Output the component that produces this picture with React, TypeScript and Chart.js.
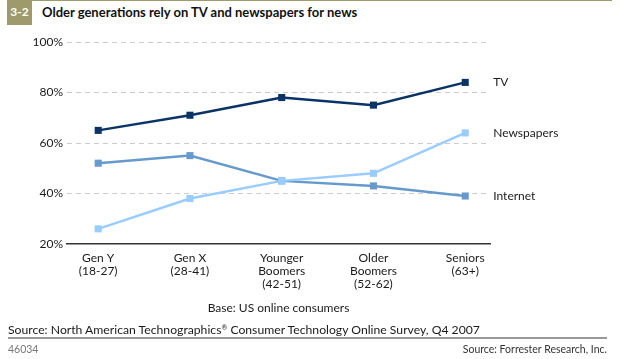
import React, { useEffect, useRef } from "react";
import { Chart, registerables } from "chart.js";

Chart.register(...registerables);

const categories: string[][] = [
  ["Gen Y", "(18-27)"],
  ["Gen X", "(28-41)"],
  ["Younger", "Boomers", "(42-51)"],
  ["Older", "Boomers", "(52-62)"],
  ["Seniors", "(63+)"],
];
const tvValues = [65, 71, 78, 75, 84];
const newspaperValues = [26, 38, 45, 48, 64];
const internetValues = [52, 55, 45, 43, 39];
const seriesNames = ["TV", "Newspapers", "Internet"];
const yTicks = [20, 40, 60, 80, 100];

const FONT = "Lato, 'Open Sans', sans-serif";
const OLIVE = "#9e9a6b";

const seriesLabelPlugin = {
  id: "seriesLabels",
  afterDatasetsDraw(chart: any) {
    const ctx = chart.ctx;
    ctx.save();
    ctx.font = `12px ${FONT}`;
    ctx.fillStyle = "#1a1a1a";
    ctx.textBaseline = "middle";
    ctx.textAlign = "left";
    chart.data.datasets.forEach((ds: any, i: number) => {
      const meta = chart.getDatasetMeta(i);
      const pt = meta.data[meta.data.length - 1];
      if (pt) ctx.fillText(ds.label, pt.x + 28, pt.y);
    });
    ctx.restore();
  },
};

export default function App() {
  const ref = useRef<HTMLCanvasElement>(null);
  useEffect(() => {
    if (!ref.current) return;
    const mk = (values: number[], i: number, color: string) => ({
      label: seriesNames[i],
      data: values.map((v, j) => ({ x: j, y: v })),
      borderColor: color,
      backgroundColor: color,
      pointBackgroundColor: color,
      pointBorderWidth: 0,
      pointStyle: "rect",
      pointRadius: 5,
      borderWidth: 2.5,
      tension: 0,
    });
    const chart = new Chart(ref.current, {
      type: "line",
      data: {
        datasets: [
          mk(tvValues, 0, "#0a3366"),
          mk(newspaperValues, 1, "#99ccff"),
          mk(internetValues, 2, "#6699cc"),
        ],
      },
      options: {
        animation: false,
        responsive: false,
        maintainAspectRatio: false,
        layout: { padding: { top: 42, right: 133, bottom: 65, left: 0 } },
        plugins: { legend: { display: false }, tooltip: { enabled: false } },
        scales: {
          x: {
            type: "linear",
            min: -0.34,
            max: 4.27,
            afterBuildTicks: (scale: any) => {
              scale.ticks = categories.map((_, i) => ({ value: i }));
            },
            afterFit: (scale: any) => {
              scale.height = 50;
            },
            ticks: {
              autoSkip: false,
              maxRotation: 0,
              padding: 7,
              color: "#1a1a1a",
              font: { family: FONT, size: 12, lineHeight: 1.12 },
              callback: (v: any) => categories[Math.round(Number(v))] ?? "",
            },
            grid: { display: false, drawTicks: false },
            border: { display: true, color: "#333333", width: 1.5 },
          },
          y: {
            min: 20,
            max: 100,
            afterBuildTicks: (scale: any) => {
              scale.ticks = yTicks.map((v) => ({ value: v }));
            },
            afterFit: (scale: any) => {
              scale.width = 67;
            },
            ticks: {
              padding: 4,
              color: "#1a1a1a",
              font: { family: FONT, size: 12 },
              callback: (v: any) => `${v}%`,
            },
            grid: {
              drawTicks: false,
              color: (c: any) => (c.tick && c.tick.value === 20 ? "rgba(0,0,0,0)" : "#cccccc"),
              lineWidth: 1,
            },
            border: { display: false, dash: [5, 4] },
          },
        },
      },
      plugins: [seriesLabelPlugin],
    } as any);
    return () => chart.destroy();
  }, []);

  const text: React.CSSProperties = {
    position: "absolute",
    fontFamily: FONT,
    color: "#1a1a1a",
    whiteSpace: "nowrap",
    lineHeight: "1",
  };

  return (
    <div style={{ position: "absolute", left: 0, top: 0, width: 623, height: 359, background: "#fff", overflow: "hidden" }}>
      <div style={{ position: "absolute", left: 7, top: 0, width: 605, height: 1, background: OLIVE }} />
      <div style={{ position: "absolute", left: 7, top: 0, width: 25, height: 25, background: OLIVE }} />
      <div style={{ ...text, left: 7, width: 25, top: 6, fontSize: 12, fontWeight: 700, color: "#fff", textAlign: "center" }}>3-2</div>
      <div style={{ ...text, left: 42, top: 6, fontSize: 13, fontWeight: 700, color: "#111" }}>
        Older generations rely on TV and newspapers for news
      </div>
      <canvas ref={ref} width={623} height={359} style={{ position: "absolute", left: 0, top: 0, width: 623, height: 359 }} />
      <div style={{ ...text, left: 0, width: 557, top: 302, fontSize: 12, textAlign: "center" }}>Base: US online consumers</div>
      <div style={{ ...text, left: 8, top: 324, fontSize: 12.2 }}>
        Source: North American Technographics<sup style={{ fontSize: 7, verticalAlign: "top", lineHeight: "1" }}>®</sup> Consumer Technology Online Survey, Q4 2007
      </div>
      <div style={{ position: "absolute", left: 8, top: 337, width: 599, height: 1.5, background: "#999" }} />
      <div style={{ ...text, left: 8, top: 344, fontSize: 10.5, color: "#777" }}>46034</div>
      <div style={{ ...text, right: 16, top: 344, fontSize: 10.5, color: "#333" }}>Source: Forrester Research, Inc.</div>
    </div>
  );
}
